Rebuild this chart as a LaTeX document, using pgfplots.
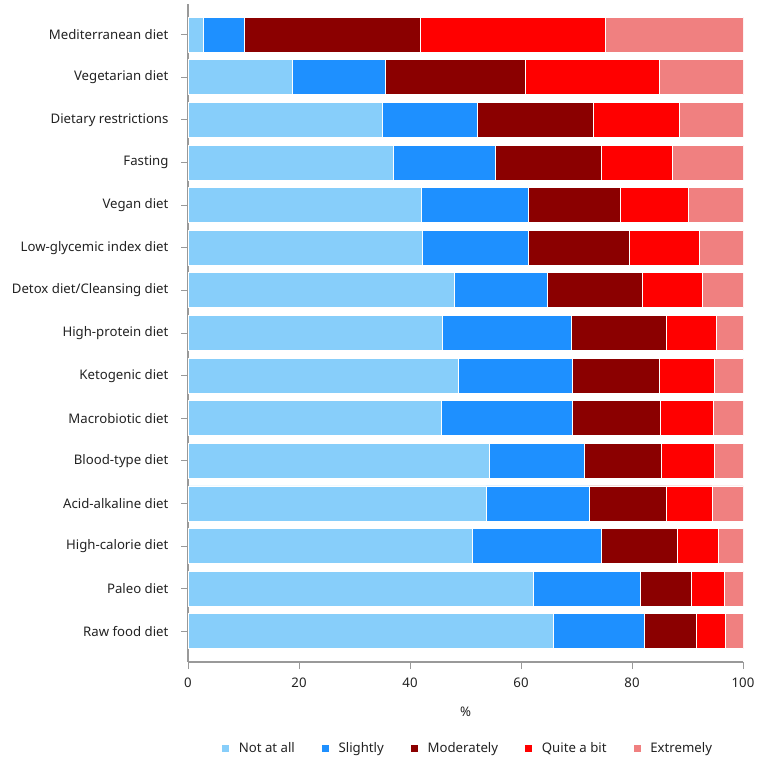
\documentclass[border=0pt]{standalone}
\usepackage{fontspec}
\setmainfont{Noto Sans}
\usepackage{pgfplots}
\usepackage{pgfplotstable}
\pgfplotsset{compat=1.18}

\definecolor{notatall}{HTML}{87CEFA}
\definecolor{slightly}{HTML}{1E90FF}
\definecolor{moderately}{HTML}{8B0000}
\definecolor{quitebit}{HTML}{FF0000}
\definecolor{extremely}{HTML}{F08080}
\definecolor{axgray}{HTML}{999999}
\definecolor{txt}{HTML}{222222}

% rows top to bottom, shares in %
\pgfplotstableread{
y  a    b    c    d    e
0  2.7  7.5  31.6 33.4 24.8
1  18.9 16.6 25.3 24.1 15.1
2  35.0 17.2 20.9 15.4 11.5
3  37.0 18.3 19.1 12.8 12.8
4  42.0 19.4 16.5 12.3 9.8
5  42.3 19.1 18.2 12.5 7.9
6  48.0 16.8 17.1 10.8 7.3
7  45.8 23.2 17.2 9.0  4.8
8  48.8 20.4 15.7 9.9  5.2
9  45.6 23.7 15.8 9.6  5.3
10 54.3 17.1 13.9 9.5  5.2
11 53.7 18.6 13.9 8.2  5.6
12 51.2 23.3 13.7 7.4  4.4
13 62.3 19.2 9.2  6.0  3.3
14 65.9 16.3 9.4  5.3  3.1
}\diets

\begin{document}
\begin{tikzpicture}
\useasboundingbox (0,0) rectangle (760pt,760pt);
\begin{axis}[
  at={(188pt,98pt)}, anchor=south west,
  scale only axis, width=555pt, height=658pt,
  font=\fontsize{13.2}{15}\selectfont, text=txt,
  xbar stacked, bar width=35pt,
  y dir=reverse,
  xmin=0, xmax=100, ymin=-0.72, ymax=14.72,
  axis x line*=bottom, axis y line*=left,
  axis line style={axgray, line width=1.2pt},
  tick style={axgray, line width=1pt},
  tick align=outside, major tick length=7pt,
  xtick={0,20,...,100},
  ytick={0,...,14},
  yticklabels={Mediterranean diet, Vegetarian diet, Dietary restrictions, Fasting, Vegan diet, Low-glycemic index diet, Detox diet/Cleansing diet, High-protein diet, Ketogenic diet, Macrobiotic diet, Blood-type diet, Acid-alkaline diet, High-calorie diet, Paleo diet, Raw food diet},
  yticklabel style={xshift=-9pt},
  xticklabel style={yshift=-5pt},
  /pgf/number format/assume math mode=true,
  xlabel={\%},
  every axis x label/.style={at={(axis description cs:0.5,0)}, yshift=-50pt, anchor=center},
  legend style={at={(axis description cs:0.5,0)}, xshift=2pt, yshift=-86pt, anchor=center,
    draw=none, fill=none, legend columns=5,
    /tikz/every even column/.append style={column sep=24pt}},
  legend cell align=left,
  legend image code/.code={\fill[#1] (0pt,-4pt) rectangle (8pt,4pt); \path (15pt,0pt);},
]
\addplot[fill=notatall, draw=white, line width=0.8pt] table[x=a, y=y] {\diets};
\addlegendentry{Not at all}
\addplot[fill=slightly, draw=white, line width=0.8pt] table[x=b, y=y] {\diets};
\addlegendentry{Slightly}
\addplot[fill=moderately, draw=white, line width=0.8pt] table[x=c, y=y] {\diets};
\addlegendentry{Moderately}
\addplot[fill=quitebit, draw=white, line width=0.8pt] table[x=d, y=y] {\diets};
\addlegendentry{Quite a bit}
\addplot[fill=extremely, draw=white, line width=0.8pt] table[x=e, y=y] {\diets};
\addlegendentry{Extremely}
\end{axis}
\end{tikzpicture}
\end{document}
